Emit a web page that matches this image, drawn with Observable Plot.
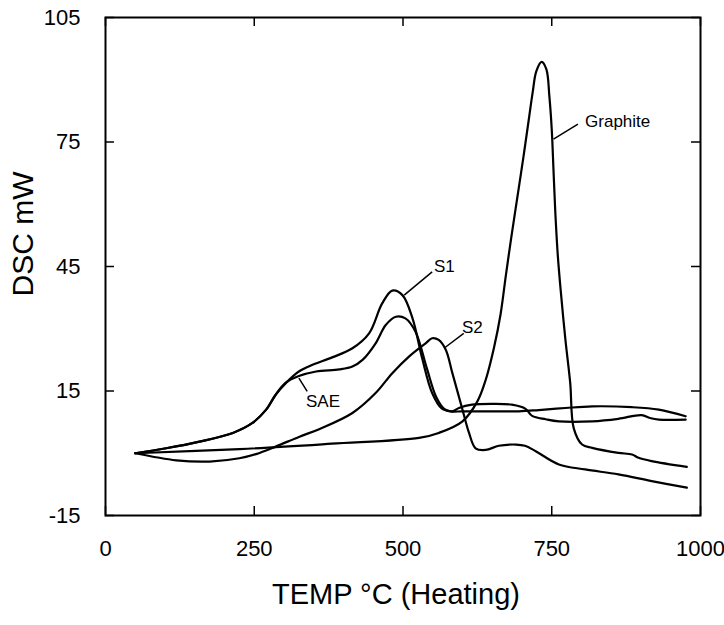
<!DOCTYPE html>
<html><head><meta charset="utf-8">
<script src="https://cdn.jsdelivr.net/npm/d3@7"></script>
<script src="https://cdn.jsdelivr.net/npm/@observablehq/plot@0.6"></script>
<style>html,body{margin:0;padding:0;background:#fff;} #chart svg{display:block;}</style>
</head><body><div id="chart"></div>
<script>
// ---- data ----
const xTicks = [0, 250, 500, 750, 1000];
const xTickLabels = ["0", "250", "500", "750", "1000"];
const yTicks = [-15, 15, 45, 75, 105];
const yTickLabels = ["-15", "15", "45", "75", "105"];

const s1Temp = [50,102,158,214,247,270,286,303,325,348,381,415,443,465,482,499,516,532,549,565,580,600,650,695,728,773,818,885,930,975];
const s1Dsc  = [0,1.2,2.8,4.9,7.3,10.5,14.1,16.9,19.7,21.3,23.1,25.3,28.9,36.1,39.2,38.1,32.5,23,14.5,10.8,10.1,10.1,10.1,10.1,10.4,10.9,11.3,11.1,10.5,8.9];

const saeTemp = [50,102,158,214,247,270,286,303,325,354,393,415,432,454,471,488,504,521,540,556,570,583,594,616,650,683,706,717,740,762,818,862,901,915,930,975];
const saeDsc  = [0,1.2,2.8,4.9,7.3,10.5,14.1,17.0,18.6,19.7,20.2,20.9,22.5,26.5,30.9,32.9,32.5,29.3,20.5,13.5,10.6,10.1,10.9,11.7,11.9,11.7,10.7,9.0,8.2,7.7,7.7,8.3,9.2,8.5,8.1,8.1];

const s2Temp = [50,119,175,225,253,286,326,359,415,454,482,510,538,549,560,572,583,600,611,622,639,661,690,705,723,762,806,862,918,977];
const s2Dsc  = [0,-1.7,-2.0,-1.2,-0.2,1.6,4.0,5.8,9.7,14.5,19.3,23.3,26.5,27.7,27.3,24.9,19.3,10.5,4.9,1.2,0.8,1.8,2.1,1.8,0.5,-2.7,-3.9,-5.1,-6.7,-8.3];

const grTemp = [50,225,380,527,560,600,625,639,653,664,673,682,692,702,711,718,724,733,741,746,750,753,756,760,765,773,781,787,801,818,862,885,896,918,977];
const grDsc  = [0,1.0,2.3,3.7,4.9,7.7,12.5,17.7,25.5,33.5,43,52,61.5,71,80,87,92,94.3,92.5,86,78,68,58,48,39.3,27.3,17,6,2.1,1.3,0.1,-0.3,-1.1,-1.9,-3.3];

const labelText = ["Graphite", "S1", "S2", "SAE"];
const labelTemp = [806, 552, 599, 337];
const labelDsc  = [80, 44.9, 30.4, 12.5];
const leaderT1 = [753, 502, 569, 325];
const leaderV1 = [75.7, 38.1, 25.3, 18.1];
const leaderT2 = [794, 549, 602, 339];
const leaderV2 = [79.3, 43.7, 28.9, 14.9];

const xTitle = "TEMP °C (Heating)";
const yTitle = "DSC mW";

// ---- build tables ----
const rows = (name, T, V) => T.map((t, i) => ({series: name, temp: t, dsc: V[i]}));
const curves = [
  ...rows("S1", s1Temp, s1Dsc),
  ...rows("SAE", saeTemp, saeDsc),
  ...rows("S2", s2Temp, s2Dsc),
  ...rows("Graphite", grTemp, grDsc)
];
const labels = labelText.map((t, i) => ({text: t, temp: labelTemp[i], dsc: labelDsc[i]}));
const leaders = leaderT1.map((t, i) => ({t1: t, v1: leaderV1[i], t2: leaderT2[i], v2: leaderV2[i]}));

const W = 724, H = 625, mL = 105, mR = 24, mT = 17, mB = 110;
const innerW = W - mL - mR, innerH = H - mT - mB, tickLen = 9;

const chart = Plot.plot({
  width: W, height: H,
  marginLeft: mL, marginRight: mR, marginTop: mT, marginBottom: mB,
  style: {fontFamily: "'Liberation Sans', Arial, Helvetica, sans-serif", background: "#fff", color: "#000"},
  x: {domain: [0, 1000]},
  y: {domain: [-15, 105]},
  marks: [
    Plot.axisX(xTicks, {anchor: "bottom", tickSize: 0, tickPadding: 25, fontSize: 22, label: null,
      tickFormat: (d) => xTickLabels[xTicks.indexOf(d)]}),
    Plot.axisY(yTicks, {anchor: "left", tickSize: 0, tickPadding: 25, fontSize: 22, label: null,
      tickFormat: (d) => yTickLabels[yTicks.indexOf(d)]}),
    Plot.tickX(xTicks, {x: (d) => d, insetTop: innerH - tickLen, stroke: "#000", strokeWidth: 1.5}),
    Plot.tickX(xTicks, {x: (d) => d, insetBottom: innerH - tickLen, stroke: "#000", strokeWidth: 1.5}),
    Plot.tickY(yTicks, {y: (d) => d, insetRight: innerW - tickLen, stroke: "#000", strokeWidth: 1.5}),
    Plot.tickY(yTicks, {y: (d) => d, insetLeft: innerW - tickLen, stroke: "#000", strokeWidth: 1.5}),
    Plot.line(curves, {x: "temp", y: "dsc", z: "series", curve: "catmull-rom", stroke: "#000", strokeWidth: 2.2}),
    Plot.link(leaders, {x1: "t1", y1: "v1", x2: "t2", y2: "v2", stroke: "#000", strokeWidth: 1.5}),
    Plot.text(labels, {x: "temp", y: "dsc", text: "text", textAnchor: "start", fontSize: 17, fill: "#000"}),
    Plot.text([yTitle], {text: (d) => d, frameAnchor: "left", rotate: -90, dx: -82, dy: 30, fontSize: 30, fill: "#000"}),
    Plot.text([xTitle], {text: (d) => d, frameAnchor: "bottom", dx: -7, dy: 88, fontSize: 29, fill: "#000"}),
    Plot.frame({stroke: "#000", strokeWidth: 2})
  ]
});
document.getElementById("chart").appendChild(chart);
</script>
</body></html>
